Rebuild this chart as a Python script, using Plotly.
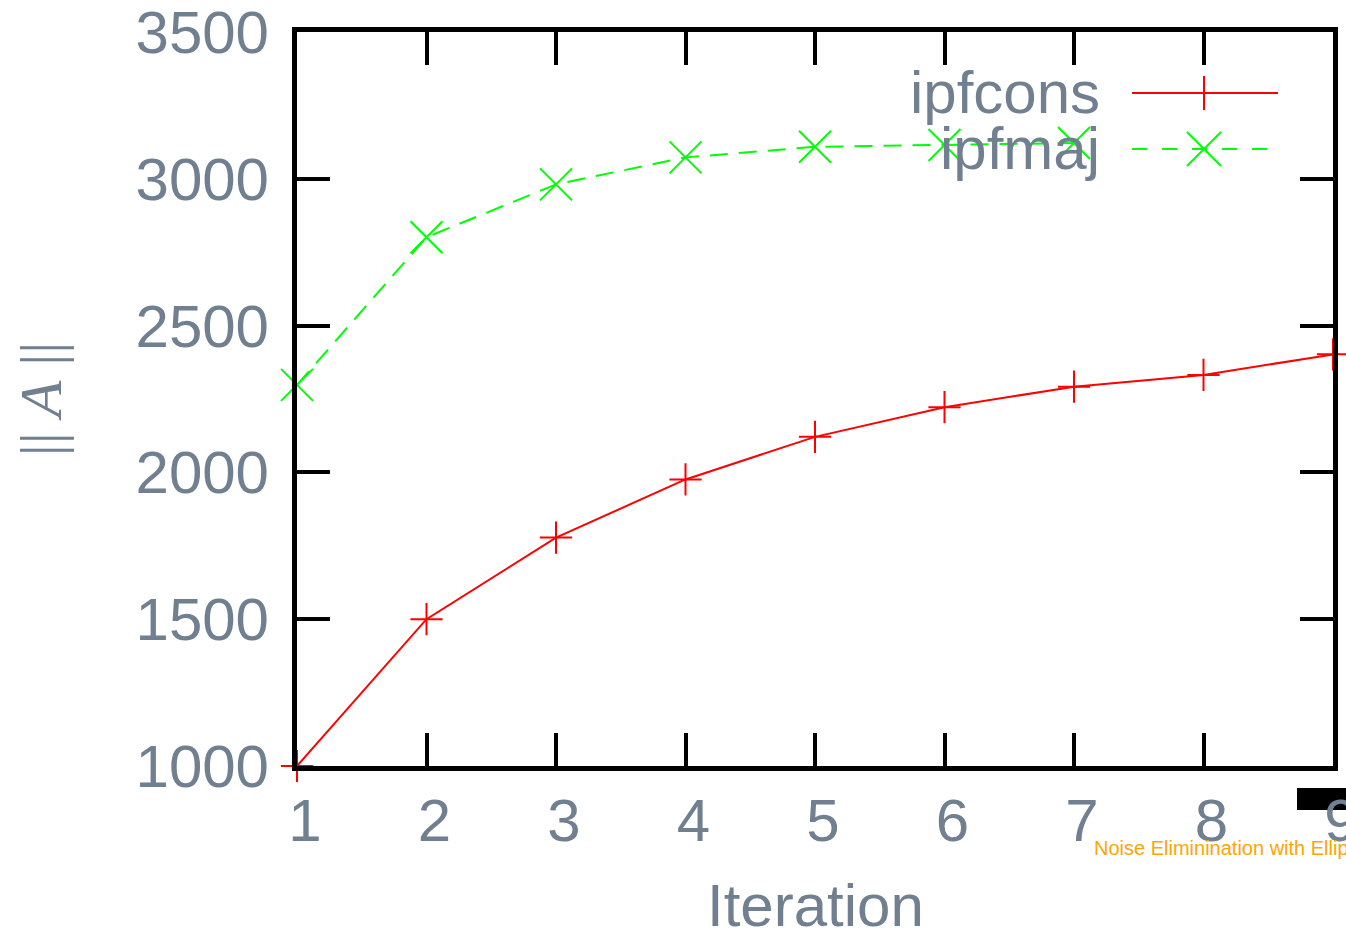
import plotly.graph_objects as go

# ---- data ----
iter_cons = [1, 2, 3, 4, 5, 6, 7, 8, 9]
ipfcons = [1000, 1500, 1778, 1976, 2121, 2222, 2292, 2332, 2402]
iter_maj = [1, 2, 3, 4, 5, 6, 7]
ipfmaj = [2298, 2801, 2981, 3073, 3109, 3115, 3122]

x_ticks = [1, 2, 3, 4, 5, 6, 7, 8, 9]
y_ticks = [1000, 1500, 2000, 2500, 3000, 3500]
series_names = ["ipfcons", "ipfmaj"]
x_title = "Iteration"
y_title = "|| <i>A</i> ||"
note_text = "Noise Eliminination with Ellipsoids"

RED = "#ff0000"
GREEN = "#00ff00"
GRAY = "#708090"
FONT = "Liberation Sans, Arial, sans-serif"
SERIF = "Liberation Serif, Times New Roman, serif"

W, H = 1346, 930
ML, MR, MT, MB = 297, 13, 32, 164
PW, PH = W - ML - MR, H - MT - MB

fig = go.Figure()
fig.add_trace(go.Scatter(
    x=iter_cons, y=ipfcons, mode="lines+markers", name=series_names[0],
    line=dict(color=RED, width=2),
    marker=dict(symbol="cross-thin", size=23, line=dict(color=RED, width=2)),
    cliponaxis=False, showlegend=False))
fig.add_trace(go.Scatter(
    x=iter_maj, y=ipfmaj, mode="lines+markers", name=series_names[1],
    line=dict(color=GREEN, width=2, dash="18px,11px"),
    marker=dict(symbol="x-thin", size=32, line=dict(color=GREEN, width=2)),
    cliponaxis=False, showlegend=False))


def px_x(p):
    return (p - ML) / PW


def px_y(p):
    return (H - MB - p) / PH


shapes = []
annotations = []
# custom legend (text left, sample right, as in the reference)
legend_rows = [(series_names[0], RED, "solid", "plus", 93),
               (series_names[1], GREEN, "15px,15px", "x", 149)]
for name, col, dash, sym, py in legend_rows:
    annotations.append(dict(
        x=px_x(1102), y=px_y(py - 1), xref="paper", yref="paper",
        xanchor="right", yanchor="middle", text=name, showarrow=False,
        font=dict(family=FONT, size=60, color=GRAY)))
    shapes.append(dict(type="line", xref="paper", yref="paper",
                       x0=px_x(1132), x1=px_x(1278), y0=px_y(py), y1=px_y(py),
                       line=dict(color=col, width=2, dash=dash)))
    cx, cy = px_x(1204), px_y(py)
    if sym == "plus":
        segs = [(-16, 0, 16, 0), (0, -17, 0, 17)]
    else:
        segs = [(-17, -17, 17, 17), (-17, 17, 17, -17)]
    for a0, b0, a1, b1 in segs:
        shapes.append(dict(type="line", xref="paper", yref="paper",
                           xsizemode="pixel", ysizemode="pixel",
                           xanchor=cx, yanchor=cy,
                           x0=a0, x1=a1, y0=b0, y1=b1,
                           line=dict(color=col, width=2)))

# black block near the bottom-right corner
shapes.append(dict(type="rect", xref="paper", yref="paper", layer="below",
                   x0=px_x(1297), x1=px_x(1360), y0=px_y(810), y1=px_y(788),
                   fillcolor="black", line=dict(width=0)))

annotations.append(dict(
    x=px_x(1092), y=px_y(848), xref="paper", yref="paper",
    xanchor="left", yanchor="middle", text=note_text, showarrow=False,
    font=dict(family=FONT, size=20, color="#ffa500")))

# x-axis title (placed as an annotation so it can sit at the very bottom)
annotations.append(dict(
    x=0.5, y=px_y(905), xref="paper", yref="paper",
    xanchor="center", yanchor="middle", text=x_title, showarrow=False,
    font=dict(family=FONT, size=60, color=GRAY)))

axis_common = dict(
    showgrid=False, zeroline=False, showline=True, linewidth=5,
    linecolor="black", mirror="ticks", ticks="inside", ticklen=33,
    tickwidth=4, tickcolor="black", ticklabeloverflow="allow",
    tickfont=dict(family=FONT, size=60, color=GRAY))

fig.update_layout(
    width=W, height=H,
    margin=dict(l=ML, r=MR, t=MT, b=MB, autoexpand=False),
    paper_bgcolor="white", plot_bgcolor="white",
    font=dict(family=FONT, color=GRAY),
    showlegend=False,
    shapes=shapes, annotations=annotations,
    xaxis=dict(range=[1, 9], tickmode="array", tickvals=x_ticks,
               ticktext=[str(v) for v in x_ticks], ticklabelshift=8,
               ticklabelstandoff=-2,
               **axis_common),
    yaxis=dict(range=[1000, 3500], tickmode="array", tickvals=y_ticks,
               ticktext=[str(v) for v in y_ticks], ticklabelstandoff=11,
               title=dict(text=y_title, standoff=56,
                          font=dict(family=SERIF, size=60, color=GRAY)),
               **axis_common),
)

fig.write_html("out.html",
               config={"displayModeBar": False},
               post_script="document.body.style.margin='0';"
                           "document.body.style.overflow='hidden';")
